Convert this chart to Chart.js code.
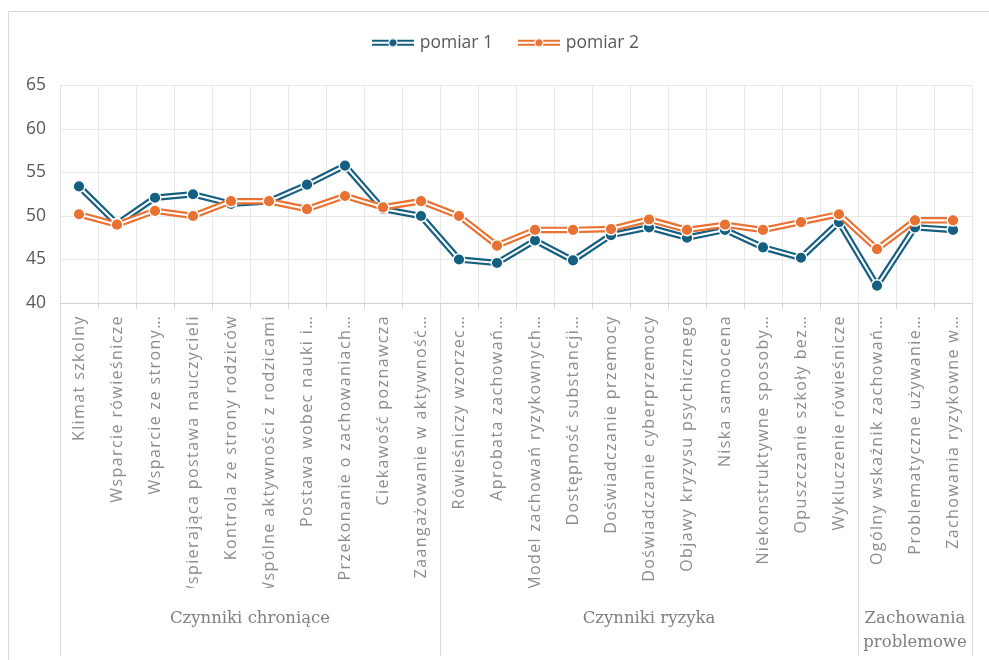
<!DOCTYPE html>
<html>
<head>
<meta charset="utf-8">
<script src="https://cdn.jsdelivr.net/npm/chart.js@4.4.1/dist/chart.umd.min.js"></script>
<style>
  html, body { margin: 0; padding: 0; background: #ffffff; }
  canvas { display: block; }
</style>
</head>
<body>
<canvas id="c" width="989" height="660"></canvas>
<script>
const categories = [
  'Klimat szkolny',
  'Wsparcie rówieśnicze',
  'Wsparcie ze strony…',
  'Wspierająca postawa nauczycieli',
  'Kontrola ze strony rodziców',
  'Wspólne aktywności z rodzicami',
  'Postawa wobec nauki i…',
  'Przekonanie o zachowaniach…',
  'Ciekawość poznawcza',
  'Zaangażowanie w aktywność…',
  'Rówieśniczy wzorzec…',
  'Aprobata zachowań…',
  'Model zachowań ryzykownych…',
  'Dostępność substancji…',
  'Doświadczanie przemocy',
  'Doświadczanie cyberprzemocy',
  'Objawy kryzysu psychicznego',
  'Niska samoocena',
  'Niekonstruktywne sposoby…',
  'Opuszczanie szkoły bez…',
  'Wykluczenie rówieśnicze',
  'Ogólny wskaźnik zachowań…',
  'Problematyczne używanie…',
  'Zachowania ryzykowne w…'
];
const groupNames = [['Czynniki chroniące'], ['Czynniki ryzyka'], ['Zachowania', 'problemowe']];
const groupSizes = [10, 11, 3];

const seriesNames = ['pomiar 1', 'pomiar 2'];
const pomiar1 = [53.4, 49.1, 52.1, 52.5, 51.4, 51.7, 53.6, 55.8, 50.8, 50.0, 45.0, 44.6, 47.2, 44.9, 47.8, 48.7, 47.5, 48.4, 46.4, 45.2, 49.3, 42.0, 48.7, 48.4];
const pomiar2 = [50.2, 49.0, 50.6, 50.0, 51.7, 51.7, 50.8, 52.3, 51.0, 51.7, 50.0, 46.6, 48.4, 48.4, 48.5, 49.6, 48.4, 49.0, 48.4, 49.3, 50.2, 46.2, 49.5, 49.5];
const yTicks = [40, 45, 50, 55, 60, 65];

const colors = ['#156082', '#E97132'];

function legendIcon(color) {
  const cv = document.createElement('canvas');
  cv.width = 44; cv.height = 12;
  const g = cv.getContext('2d');
  g.strokeStyle = color; g.lineWidth = 6;
  g.beginPath(); g.moveTo(1, 6); g.lineTo(43, 6); g.stroke();
  g.strokeStyle = '#ffffff'; g.lineWidth = 1.8;
  g.beginPath(); g.moveTo(1, 6); g.lineTo(43, 6); g.stroke();
  g.fillStyle = color; g.strokeStyle = '#ffffff'; g.lineWidth = 1.2;
  g.beginPath(); g.arc(22, 6, 4.2, 0, Math.PI * 2); g.fill(); g.stroke();
  return cv;
}
const icons = colors.map(legendIcon);

function seriesDatasets(data, idx) {
  const base = 6 - idx * 3;
  return [
    { label: seriesNames[idx] + ' line', data: data, borderColor: colors[idx], borderWidth: 6.5,
      pointRadius: 0, fill: false, tension: 0, order: base },
    { label: seriesNames[idx] + ' inner', data: data, borderColor: '#ffffff', borderWidth: 2.1,
      pointRadius: 0, fill: false, tension: 0, order: base - 1 },
    { label: seriesNames[idx], data: data, showLine: false, pointRadius: 5.8,
      pointBackgroundColor: colors[idx], pointBorderColor: '#ffffff', pointBorderWidth: 1.4,
      backgroundColor: colors[idx], borderColor: colors[idx], order: base - 2 }
  ];
}

const groupPlugin = {
  id: 'groupPlugin',
  afterLayout(chart) {
    const s = chart.scales.x;
    if (!s._spaced) {
      const orig = s.drawLabels.bind(s);
      s.drawLabels = function (area) {
        const ctx = chart.ctx;
        ctx.save();
        ctx.letterSpacing = '1.4px';
        orig(area);
        ctx.restore();
      };
      s._spaced = true;
    }
    const lg = chart.legend;
    if (lg && !lg._shifted) {
      lg.left += 21; lg.right += 21;
      lg._shifted = true;
    }
  },
  beforeDraw(chart) {
    const ctx = chart.ctx;
    ctx.save();
    ctx.strokeStyle = '#d9d9d9';
    ctx.lineWidth = 1;
    ctx.beginPath();
    ctx.moveTo(8.5, 660); ctx.lineTo(8.5, 11.5); ctx.lineTo(989, 11.5);
    ctx.stroke();
    ctx.restore();
  },
  afterDraw(chart) {
    const ctx = chart.ctx;
    const x = chart.scales.x;
    const area = chart.chartArea;
    const bottom = 656;
    const bounds = [area.left];
    let idx = 0;
    groupSizes.forEach(n => {
      idx += n;
      if (idx >= categories.length) bounds.push(area.right);
      else bounds.push((x.getPixelForValue(idx - 1) + x.getPixelForValue(idx)) / 2);
    });
    ctx.save();
    ctx.strokeStyle = '#d9d9d9';
    ctx.lineWidth = 1;
    bounds.forEach(b => {
      const bx = Math.round(b) + 0.5;
      ctx.beginPath(); ctx.moveTo(bx, area.bottom); ctx.lineTo(bx, bottom); ctx.stroke();
    });
    ctx.fillStyle = '#7f7f7f';
    ctx.font = '16.5px "DejaVu Serif"';
    ctx.textAlign = 'center';
    ctx.textBaseline = 'middle';
    groupNames.forEach((lines, i) => {
      const cx = (bounds[i] + bounds[i + 1]) / 2;
      lines.forEach((t, j) => ctx.fillText(t, cx, 619 + j * 24));
    });
    ctx.restore();
  }
};

new Chart(document.getElementById('c'), {
  type: 'line',
  data: {
    labels: categories,
    datasets: [...seriesDatasets(pomiar1, 0), ...seriesDatasets(pomiar2, 1)]
  },
  options: {
    responsive: false,
    animation: false,
    events: [],
    layout: { padding: { top: 6, right: 17, bottom: 72, left: 0 } },
    plugins: {
      tooltip: { enabled: false },
      subtitle: { display: true, text: ' ', font: { size: 10 }, padding: { top: 6, bottom: 6 } },
      legend: {
        position: 'top',
        weight: 3000,
        labels: {
          usePointStyle: true,
          pointStyleWidth: 36,
          padding: 28,
          color: '#595959',
          font: { family: '"Open Sans"', size: 17.5 },
          generateLabels: () => seriesNames.map((n, i) => ({
            text: n, pointStyle: icons[i], fillStyle: colors[i], strokeStyle: colors[i],
            fontColor: '#595959', lineWidth: 0, hidden: false, datasetIndex: i * 3 + 2
          }))
        }
      }
    },
    scales: {
      x: {
        offset: true,
        grid: { offset: true, color: '#e8e8e8', tickLength: 6, tickColor: '#d9d9d9' },
        border: { color: '#d0d0d0' },
        ticks: {
          autoSkip: false, minRotation: 90, maxRotation: 90, padding: 6,
          color: '#8c8c8c', font: { family: '"Open Sans"', size: 16 }
        },
        afterFit(scale) { scale.height = 285; }
      },
      y: {
        min: 40, max: 65,
        afterBuildTicks(scale) { scale.ticks = yTicks.map(v => ({ value: v })); },
        grid: { color: '#e8e8e8', drawTicks: false },
        border: { color: '#e0e0e0' },
        ticks: { color: '#595959', padding: 14, font: { family: '"Open Sans"', size: 17.5 } },
        afterFit(scale) { scale.width = 60; }
      }
    }
  },
  plugins: [groupPlugin]
});
</script>
</body>
</html>
